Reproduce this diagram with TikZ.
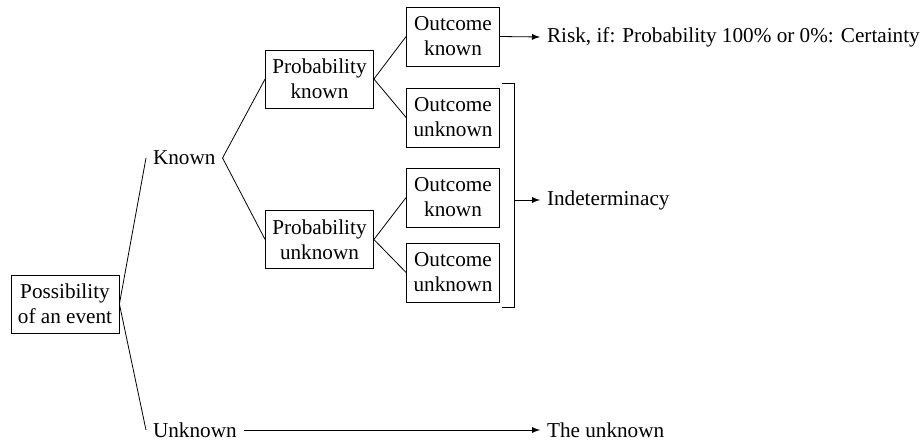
\documentclass[tikz,border=0pt]{standalone}
\usepackage{fontspec}
\setmainfont{Liberation Serif}
\usepackage{tikz}

\begin{document}
\begin{tikzpicture}[x=0.5pt,y=-0.5pt,
  every node/.style={font=\fontsize{10.6}{12.5}\selectfont},
  box/.style={draw,align=center,inner sep=1pt,minimum width=54pt,minimum height=29pt},
  obox/.style={box,minimum width=46.5pt,minimum height=29.5pt},
  lbl/.style={anchor=west}]
\useasboundingbox (0,0) rectangle (921,443);

\node[box] (poss) at (65,304) {Possibility\\of an event};
\node[lbl] (known) at (146,158) {Known};
\node[lbl] (unknown) at (146,430) {Unknown};

\node[box] (pk) at (319.5,79) {Probability\\known};
\node[box] (pu) at (319.5,239.5) {Probability\\unknown};

\node[obox] (ok1) at (453,36.5) {Outcome\\known};
\node[obox] (ou1) at (453,117.5) {Outcome\\unknown};
\node[obox] (ok2) at (453,197.5) {Outcome\\known};
\node[obox] (ou2) at (453,272.5) {Outcome\\unknown};

\node[lbl] (risk) at (540,37) {Risk, if: Probability 100\% or 0\%: Certainty};
\node[lbl] (indet) at (540,200) {Indeterminacy};
\node[lbl] (theunk) at (540,430) {The unknown};

\draw (poss.east) -- (known.west);
\draw (poss.east) -- (unknown.west);
\draw (known.east) -- (pk.west);
\draw (known.east) -- (pu.west);
\draw (pk.east) -- (ok1.west);
\draw (pk.east) -- (ou1.west);
\draw (pu.east) -- (ok2.west);
\draw (pu.east) -- (ou2.west);

% bracket round the three lower outcomes
\coordinate (btop) at (502,83);
\coordinate (bbot) at (502,307);
\coordinate (bmid) at (514,200);
\draw (btop) -- (bmid |- btop) -- (bmid |- bbot) -- (bbot);

\draw[-latex] (ok1.east) -- (risk.west);
\draw[-latex] (bmid) -- (indet.west);
\draw[-latex] (unknown.east) -- (theunk.west);
\end{tikzpicture}
\end{document}
